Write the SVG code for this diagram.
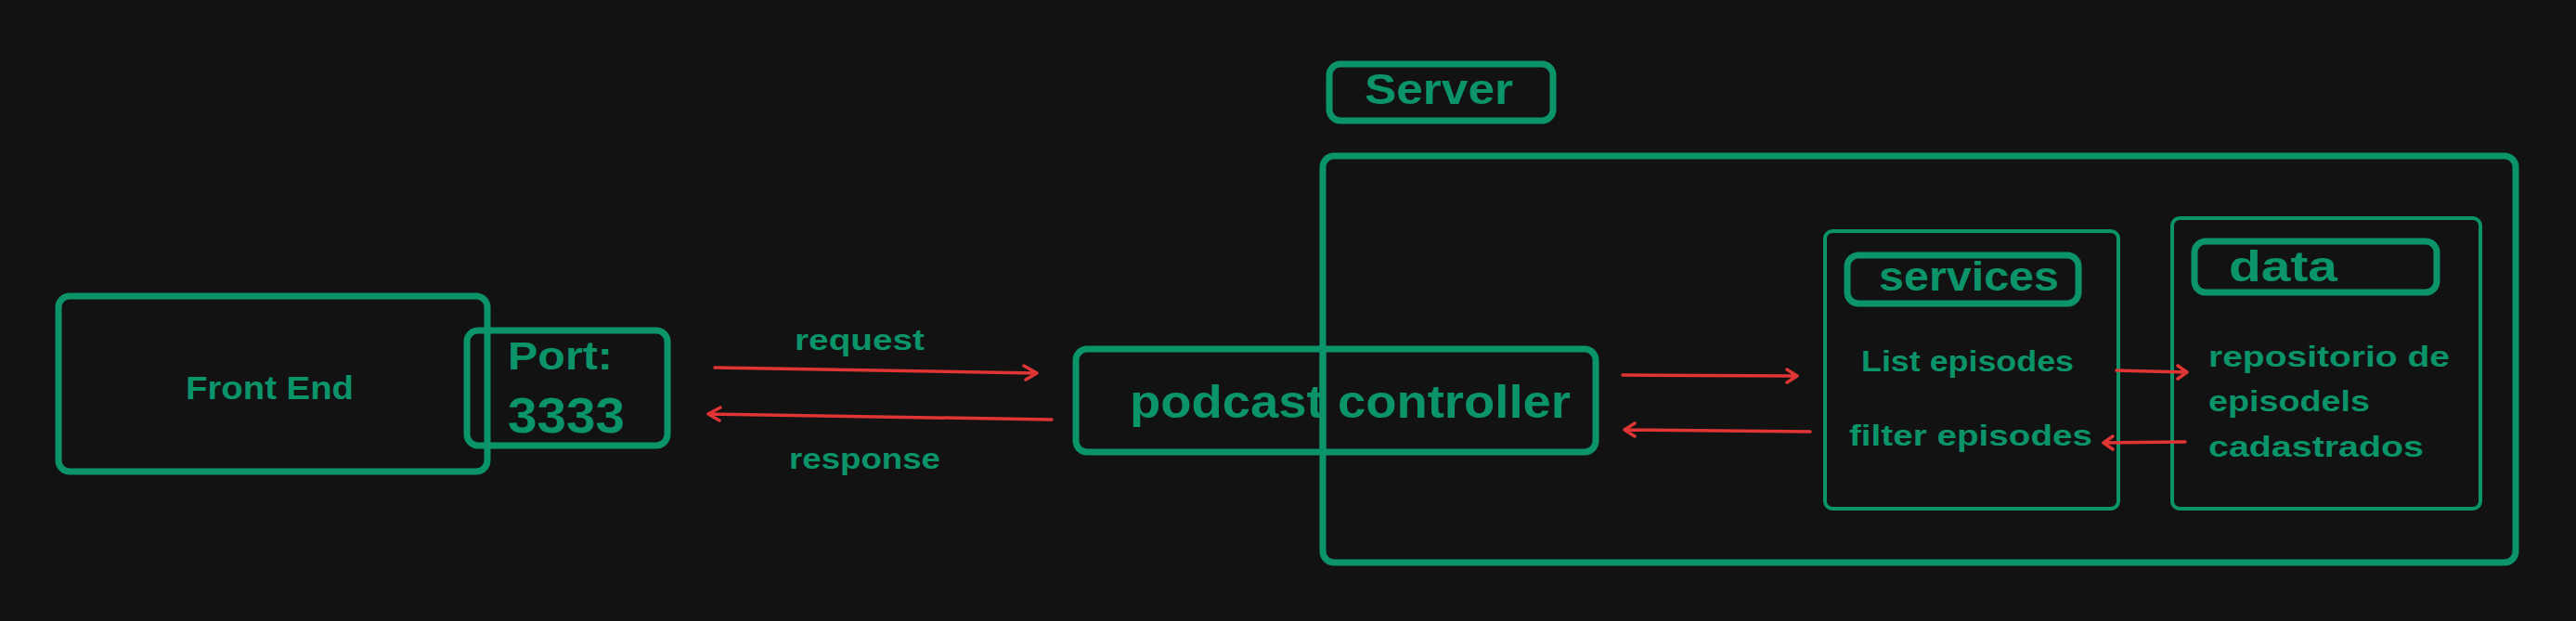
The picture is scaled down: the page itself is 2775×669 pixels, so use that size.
<svg xmlns="http://www.w3.org/2000/svg" width="2775" height="669" viewBox="0 0 2775 669">
<defs>
<style>
.bg{fill:#121212}
.box{fill:none;stroke:#0b9469;stroke-linejoin:round}
.thick{stroke-width:7}
.thin{stroke-width:4}
.t{fill:#0b9469;font-family:"Liberation Sans","DejaVu Sans",sans-serif;font-weight:bold}
.arr{fill:none;stroke:#e03535;stroke-width:3.5;stroke-linecap:round;stroke-linejoin:round}
</style>
</defs>
<rect class="bg" x="0" y="0" width="2775" height="669"/>
<g id="server">
<rect class="box thick" x="1425" y="168" width="1285" height="438" rx="12"/>
</g>
<g id="server-label">
<rect class="box thick" x="1432" y="69" width="241" height="61" rx="12"/>
<text class="t" x="1470" y="112" font-size="46" textLength="160" lengthAdjust="spacingAndGlyphs">Server</text>
</g>
<g id="front-end">
<rect class="box thick" x="63" y="319" width="462" height="189" rx="12"/>
<text class="t" x="200" y="430" font-size="35" textLength="181" lengthAdjust="spacingAndGlyphs">Front End</text>
</g>
<g id="port">
<rect class="box thick" x="503" y="356" width="216" height="124" rx="12"/>
<text class="t" x="547" y="398" font-size="43" textLength="113" lengthAdjust="spacingAndGlyphs">Port:</text>
<text class="t" x="547" y="466" font-size="53" textLength="126" lengthAdjust="spacingAndGlyphs">3333</text>
</g>
<g id="podcast-controller">
<rect class="box thick" x="1159" y="376" width="560" height="111" rx="12"/>
<text class="t" x="1217" y="450" font-size="50" textLength="475" lengthAdjust="spacingAndGlyphs">podcast controller</text>
<line x1="1425" y1="372" x2="1425" y2="491" stroke="#0b9469" stroke-width="7"/>
</g>
<g id="services">
<rect class="box thin" x="1966" y="249" width="316" height="299" rx="8"/>
<rect class="box thick" x="1990" y="275" width="249" height="52" rx="12"/>
<text class="t" x="2024" y="313" font-size="44" textLength="194" lengthAdjust="spacingAndGlyphs">services</text>
<text class="t" x="2005" y="400" font-size="31" textLength="229" lengthAdjust="spacingAndGlyphs">List episodes</text>
<text class="t" x="1992" y="480" font-size="31" textLength="262" lengthAdjust="spacingAndGlyphs">filter episodes</text>
</g>
<g id="data">
<rect class="box thin" x="2340" y="235" width="332" height="313" rx="8"/>
<rect class="box thick" x="2364" y="260" width="261" height="55" rx="12"/>
<text class="t" x="2401" y="303" font-size="46" textLength="117" lengthAdjust="spacingAndGlyphs">data</text>
<text class="t" x="2379" y="395" font-size="31" textLength="260" lengthAdjust="spacingAndGlyphs">repositorio de</text>
<text class="t" x="2379" y="443" font-size="31" textLength="174" lengthAdjust="spacingAndGlyphs">episodels</text>
<text class="t" x="2379" y="492" font-size="31" textLength="232" lengthAdjust="spacingAndGlyphs">cadastrados</text>
</g>
<g id="connectors">
<path class="arr" d="M770 396 L1117 402 M1103 394 L1117 402 L1105 409"/>
<text class="t" x="856" y="377" font-size="32" textLength="140" lengthAdjust="spacingAndGlyphs">request</text>
<path class="arr" d="M1133 452 L763 446 M776 439 L763 446 L775 453"/>
<text class="t" x="850" y="505" font-size="32" textLength="163" lengthAdjust="spacingAndGlyphs">response</text>
<path class="arr" d="M1748 404 L1936 405 M1925 398 L1936 405 L1925 412"/>
<path class="arr" d="M1950 465 L1750 463 M1761 456 L1750 463 L1761 470"/>
<path class="arr" d="M2280 399 L2356 401 M2346 394 L2356 401 L2346 408"/>
<path class="arr" d="M2354 476 L2266 477 M2276 470 L2266 477 L2276 484"/>
</g>
</svg>
